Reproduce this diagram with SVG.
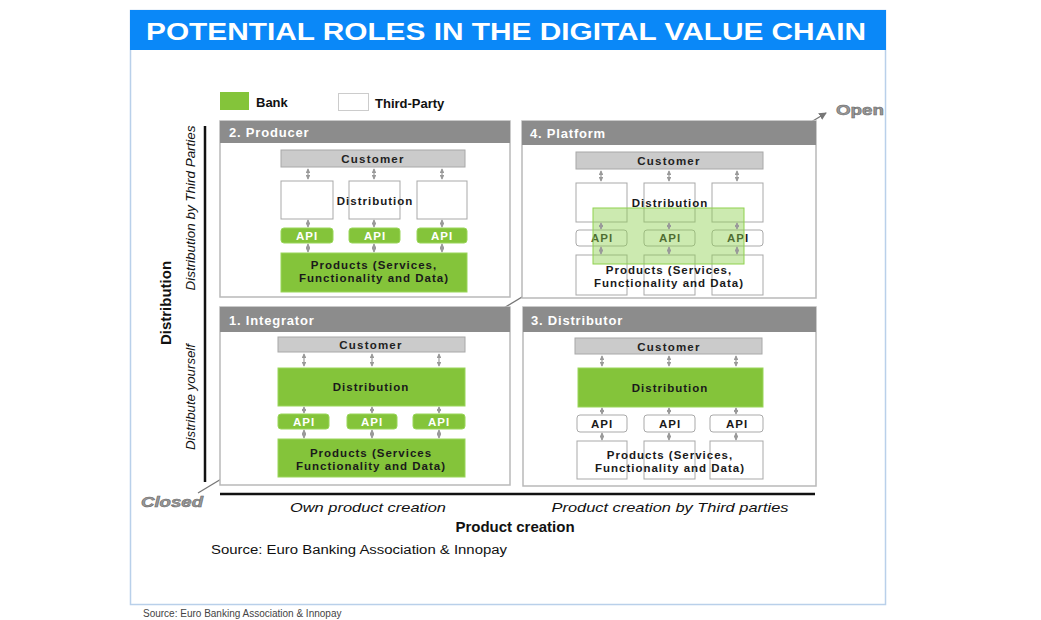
<svg xmlns="http://www.w3.org/2000/svg" width="1041" height="620" viewBox="0 0 1041 620">
<style>
text{font-family:"Liberation Sans",Arial,sans-serif}
.qbox{fill:#fff;stroke:#b9b9b9;stroke-width:1.5}
.qhead{fill:#8c8c8c}
.qtitle{fill:#fff;font-weight:bold;font-size:13px;letter-spacing:0.8px}
.cust{fill:#cbcbcb;stroke:#a8a8a8;stroke-width:1}
.custt{fill:#222;font-weight:bold;font-size:11.5px;letter-spacing:1.2px;text-anchor:middle}
.green{fill:#84c43a;stroke:#9ad65a;stroke-width:1}
.white{fill:#fff;stroke:#a9a9a9;stroke-width:1}
.t{fill:#1a1a1a;font-weight:bold;font-size:11.5px;letter-spacing:1px;text-anchor:middle}
.tw{fill:#fff;font-weight:bold;font-size:11.5px;letter-spacing:1px;text-anchor:middle}
.arr{stroke:#9a9a9a;stroke-width:1.2;marker-start:url(#ah);marker-end:url(#ah)}
.ax{stroke:#111;stroke-width:2.5}
.it{font-style:italic;fill:#111;font-size:13px;text-anchor:middle}
</style>
<defs>
<marker id="ah" viewBox="0 0 6 6" refX="5" refY="3" markerWidth="4" markerHeight="4" orient="auto-start-reverse">
<path d="M0,0 L6,3 L0,6 z" fill="#9a9a9a"/>
</marker>
<marker id="oh" viewBox="0 0 8 8" refX="7" refY="4" markerWidth="6" markerHeight="6" orient="auto">
<path d="M0,0 L8,4 L0,8 z" fill="#777"/>
</marker>
</defs>
<rect width="1041" height="620" fill="#fff"/>
<g id="frame">
<rect x="130.5" y="10.5" width="755" height="594" fill="#fff" stroke="#b9d0ea" stroke-width="1.5"/>
<rect x="130" y="10" width="756" height="40" fill="#0a88f8"/>
<text x="506" y="40" fill="#fff" font-weight="bold" font-size="24" text-anchor="middle" textLength="720" lengthAdjust="spacingAndGlyphs">POTENTIAL ROLES IN THE DIGITAL VALUE CHAIN</text>
</g>
<g id="connectors">
<line x1="198" y1="493" x2="826" y2="113" stroke="#777" stroke-width="1.3" marker-end="url(#oh)"/>
<line class="ax" x1="205" y1="126" x2="205" y2="482"/>
<line class="ax" x1="220" y1="494" x2="815" y2="494"/>
</g>
<g id="legend">
<rect x="220" y="92" width="29" height="18" fill="#84c43a"/>
<text x="256" y="107" font-weight="bold" font-size="13" fill="#111">Bank</text>
<rect x="338.5" y="93.5" width="30" height="17" fill="#fff" stroke="#ccc"/>
<text x="375" y="108" font-weight="bold" font-size="13" fill="#111">Third-Party</text>
</g>
<g id="producer">
<rect class="qbox" x="220" y="121" width="290" height="176"/>
<rect class="qhead" x="220" y="121" width="290" height="22"/>
<text class="qtitle" x="229" y="137">2. Producer</text>
<rect class="cust" x="281" y="150" width="184" height="17"/>
<text class="custt" x="373" y="163">Customer</text>
<rect class="white" x="281" y="181" width="52" height="38"/>
<rect class="white" x="349" y="181" width="51" height="38"/>
<rect class="white" x="417" y="181" width="50" height="38"/>
<text class="t" x="375" y="205" letter-spacing="0.6">Distribution</text>
<rect class="green" x="281" y="228" width="52" height="15" rx="3"/>
<rect class="green" x="349" y="228" width="51" height="15" rx="3"/>
<rect class="green" x="417" y="228" width="50" height="15" rx="3"/>
<text class="tw" x="307" y="240">API</text>
<text class="tw" x="375" y="240">API</text>
<text class="tw" x="442" y="240">API</text>
<rect class="green" x="281" y="253" width="186" height="39"/>
<text class="t" x="374" y="269">Products (Services,</text>
<text class="t" x="374" y="282">Functionality and Data)</text>
</g>
<g id="platform">
<rect class="qbox" x="522" y="121" width="294" height="177"/>
<rect class="qhead" x="522" y="121" width="294" height="24"/>
<text class="qtitle" x="530" y="138">4. Platform</text>
<rect class="cust" x="576" y="152" width="187" height="17"/>
<text class="custt" x="669" y="165">Customer</text>
<rect class="white" x="576" y="183" width="51" height="39"/>
<rect class="white" x="644" y="183" width="51" height="39"/>
<rect class="white" x="712" y="183" width="51" height="39"/>
<rect class="white" x="576" y="230" width="51" height="16" rx="3"/>
<rect class="white" x="644" y="230" width="51" height="16" rx="3"/>
<rect class="white" x="712" y="230" width="51" height="16" rx="3"/>
<text class="t" x="602" y="242">API</text>
<text class="t" x="670" y="242">API</text>
<text class="t" x="738" y="242">API</text>
<rect class="white" x="576" y="255" width="51" height="40"/>
<rect class="white" x="644" y="255" width="51" height="40"/>
<rect class="white" x="712" y="255" width="51" height="40"/>
<rect x="593" y="208" width="151" height="56" fill="#8fd14f" fill-opacity="0.45" stroke="#8fd14f" stroke-width="1"/>
<text class="t" x="670" y="207">Distribution</text>
<text class="t" x="669" y="274">Products (Services,</text>
<text class="t" x="669" y="287">Functionality and Data)</text>
</g>
<g id="integrator">
<rect class="qbox" x="220" y="307" width="290" height="178"/>
<rect class="qhead" x="220" y="307" width="290" height="25"/>
<text class="qtitle" x="229" y="325">1. Integrator</text>
<rect class="cust" x="278" y="337" width="187" height="15"/>
<text class="custt" x="371" y="349">Customer</text>
<rect class="green" x="278" y="368" width="187" height="38"/>
<text class="t" x="371" y="391">Distribution</text>
<rect class="green" x="278" y="414" width="51" height="15" rx="3"/>
<rect class="green" x="347" y="414" width="50" height="15" rx="3"/>
<rect class="green" x="413" y="414" width="52" height="15" rx="3"/>
<text class="tw" x="304" y="426">API</text>
<text class="tw" x="372" y="426">API</text>
<text class="tw" x="439" y="426">API</text>
<rect class="green" x="278" y="439" width="187" height="38"/>
<text class="t" x="371" y="457">Products (Services</text>
<text class="t" x="371" y="470">Functionality and Data)</text>
</g>
<g id="distributor">
<rect class="qbox" x="523" y="307" width="293" height="179"/>
<rect class="qhead" x="523" y="307" width="293" height="25"/>
<text class="qtitle" x="531" y="325">3. Distributor</text>
<rect class="cust" x="575" y="338" width="187" height="16"/>
<text class="custt" x="669" y="351">Customer</text>
<rect class="green" x="578" y="368" width="185" height="39" stroke="none"/>
<text class="t" x="670" y="392">Distribution</text>
<rect class="white" x="577" y="415" width="50" height="17" rx="3"/>
<rect class="white" x="644" y="415" width="51" height="17" rx="3"/>
<rect class="white" x="710" y="415" width="53" height="17" rx="3"/>
<text class="t" x="602" y="428">API</text>
<text class="t" x="670" y="428">API</text>
<text class="t" x="737" y="428">API</text>
<rect class="white" x="577" y="441" width="50" height="38"/>
<rect class="white" x="644" y="441" width="51" height="38"/>
<rect class="white" x="710" y="441" width="53" height="38"/>
<text class="t" x="670" y="459">Products (Services,</text>
<text class="t" x="670" y="472">Functionality and Data)</text>
</g>
<g id="arrows">
<line class="arr" x1="308" y1="169" x2="308" y2="179"/>
<line class="arr" x1="374" y1="169" x2="374" y2="179"/>
<line class="arr" x1="442" y1="169" x2="442" y2="179"/>
<line class="arr" x1="308" y1="220" x2="308" y2="227"/>
<line class="arr" x1="374" y1="220" x2="374" y2="227"/>
<line class="arr" x1="442" y1="220" x2="442" y2="227"/>
<line class="arr" x1="308" y1="244" x2="308" y2="252"/>
<line class="arr" x1="374" y1="244" x2="374" y2="252"/>
<line class="arr" x1="442" y1="244" x2="442" y2="252"/>
<line class="arr" x1="601" y1="171" x2="601" y2="181"/>
<line class="arr" x1="669" y1="171" x2="669" y2="181"/>
<line class="arr" x1="737" y1="171" x2="737" y2="181"/>
<line class="arr" x1="601" y1="223" x2="601" y2="229"/>
<line class="arr" x1="669" y1="223" x2="669" y2="229"/>
<line class="arr" x1="737" y1="223" x2="737" y2="229"/>
<line class="arr" x1="601" y1="247" x2="601" y2="254"/>
<line class="arr" x1="669" y1="247" x2="669" y2="254"/>
<line class="arr" x1="737" y1="247" x2="737" y2="254"/>
<line class="arr" x1="304" y1="354" x2="304" y2="366"/>
<line class="arr" x1="372" y1="354" x2="372" y2="366"/>
<line class="arr" x1="439" y1="354" x2="439" y2="366"/>
<line class="arr" x1="304" y1="407" x2="304" y2="413"/>
<line class="arr" x1="372" y1="407" x2="372" y2="413"/>
<line class="arr" x1="439" y1="407" x2="439" y2="413"/>
<line class="arr" x1="304" y1="430" x2="304" y2="438"/>
<line class="arr" x1="372" y1="430" x2="372" y2="438"/>
<line class="arr" x1="439" y1="430" x2="439" y2="438"/>
<line class="arr" x1="602" y1="356" x2="602" y2="366"/>
<line class="arr" x1="669" y1="356" x2="669" y2="366"/>
<line class="arr" x1="736" y1="356" x2="736" y2="366"/>
<line class="arr" x1="602" y1="408" x2="602" y2="414"/>
<line class="arr" x1="669" y1="408" x2="669" y2="414"/>
<line class="arr" x1="736" y1="408" x2="736" y2="414"/>
<line class="arr" x1="602" y1="433" x2="602" y2="440"/>
<line class="arr" x1="669" y1="433" x2="669" y2="440"/>
<line class="arr" x1="736" y1="433" x2="736" y2="440"/>
</g>
<g id="labels">
<text x="171" y="303" font-weight="bold" font-size="15" fill="#111" text-anchor="middle" transform="rotate(-90 171 303)">Distribution</text>
<text class="it" x="195" y="208" textLength="165" lengthAdjust="spacingAndGlyphs" transform="rotate(-90 195 208)">Distribution by Third Parties</text>
<text class="it" x="195" y="397" textLength="106" lengthAdjust="spacingAndGlyphs" transform="rotate(-90 195 397)">Distribute yourself</text>
<text x="141" y="507" font-weight="bold" font-style="italic" font-size="14" fill="#999" stroke="#666" stroke-width="0.5" textLength="62" lengthAdjust="spacingAndGlyphs">Closed</text>
<text x="836" y="115" font-weight="bold" font-size="14" fill="#999" stroke="#666" stroke-width="0.5" textLength="48" lengthAdjust="spacingAndGlyphs">Open</text>
<text class="it" x="368" y="512" textLength="156" lengthAdjust="spacingAndGlyphs">Own product creation</text>
<text class="it" x="670" y="512" textLength="237" lengthAdjust="spacingAndGlyphs">Product creation by Third parties</text>
<text x="515" y="532" font-weight="bold" font-size="15" fill="#111" text-anchor="middle">Product creation</text>
<text x="211" y="554" font-size="12" fill="#111" textLength="296" lengthAdjust="spacingAndGlyphs">Source: Euro Banking Association &amp; Innopay</text>
<text x="143" y="617" font-size="10" fill="#444">Source: Euro Banking Association &amp; Innopay</text>
</g>
</svg>
